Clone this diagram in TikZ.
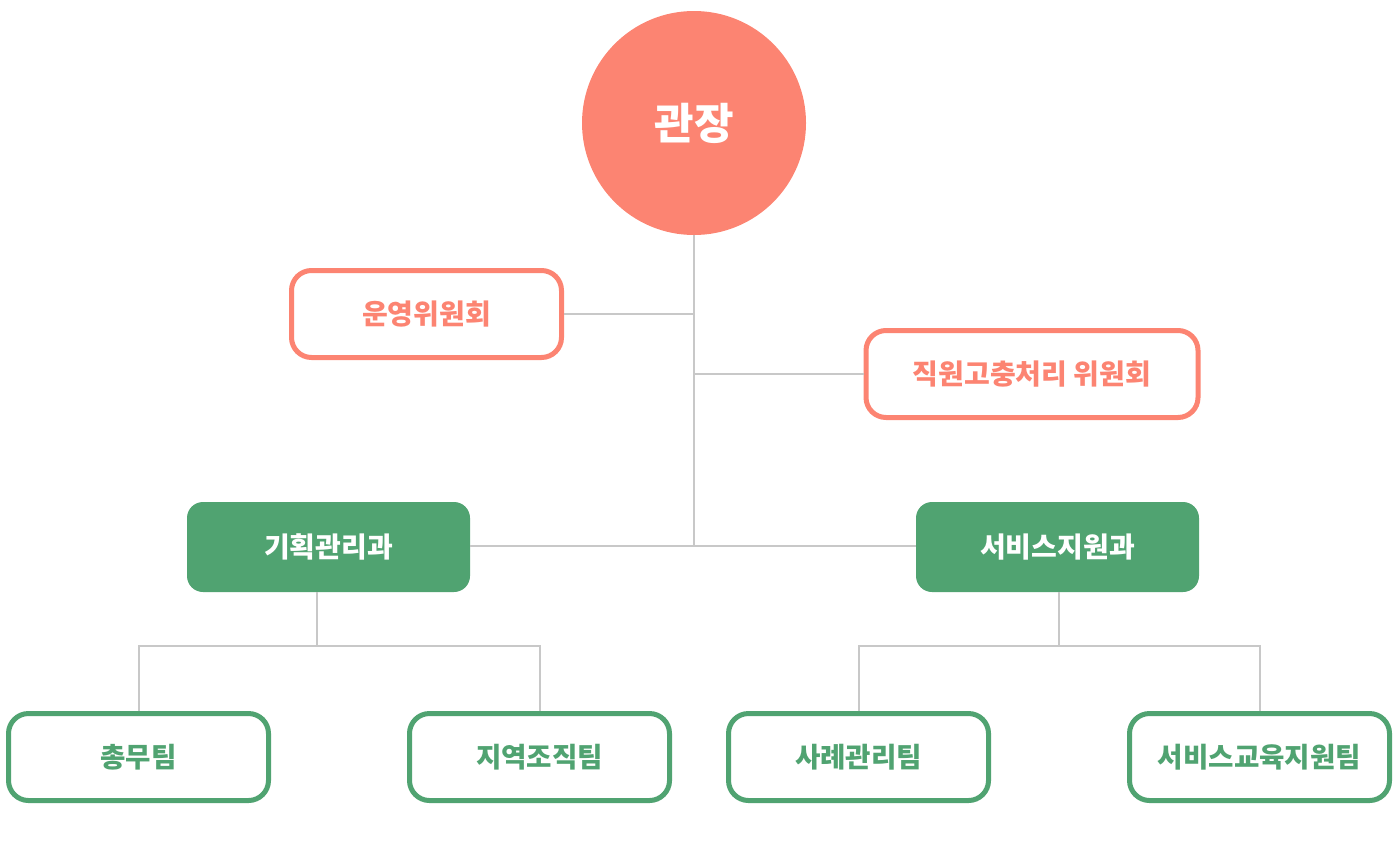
\documentclass[tikz,border=0pt]{standalone}
\usepackage{fontspec}
\setmainfont{Noto Sans CJK KR}
\usetikzlibrary{positioning}
\definecolor{orgpink}{RGB}{252,132,114}
\definecolor{orggreen}{RGB}{80,163,113}
\definecolor{orgline}{RGB}{200,200,200}
\tikzstyle{chief} = [circle, minimum size=112pt, inner sep=0pt, fill=orgpink, text=white, font=\fontsize{21.5}{25}\selectfont\bfseries]
\tikzstyle{committee} = [rectangle, rounded corners=10pt, minimum height=43.5pt, draw=orgpink, line width=2.5pt, fill=white, text=orgpink, font=\fontsize{14}{17}\selectfont\bfseries]
\tikzstyle{dept} = [rectangle, rounded corners=8pt, minimum width=141.5pt, minimum height=45pt, fill=orggreen, text=white, font=\fontsize{14}{17}\selectfont\bfseries]
\tikzstyle{team} = [rectangle, rounded corners=10pt, minimum width=130pt, minimum height=43.5pt, draw=orggreen, line width=2.5pt, fill=white, text=orggreen, font=\fontsize{13.8}{17}\selectfont\bfseries]
\tikzstyle{link} = [draw=orgline, line width=1pt]

\begin{document}
\begin{tikzpicture}[x=0.5pt, y=-0.5pt]
\useasboundingbox (0,0) rectangle (1400,841);
\node (chief) [chief] at (694,123) {관장};
\node (opcom) [committee, minimum width=135pt] at (426.5,314) {운영위원회};
\node (grievcom) [committee, minimum width=166pt] at (1032,374) {직원고충처리 위원회};
\node (plan) [dept] at (328.5,547) {기획관리과};
\node (service) [dept] at (1057.5,547) {서비스지원과};
\node (general) [team] at (138.5,757) {총무팀};
\node (region) [team] at (539.5,757) {지역조직팀};
\node (case) [team] at (858.5,757) {사례관리팀};
\node (edu) [team] at (1259.5,757) {서비스교육지원팀};

\coordinate (trunk) at (694,546);
\coordinate (planfork) at (317,646);
\coordinate (servfork) at (1059,646);

\begin{scope}[on background layer/.try]
\draw[link] (chief) -- (trunk);
\draw[link] (opcom) -- (opcom -| trunk);
\draw[link] (grievcom) -- (grievcom -| trunk);
\draw[link] (plan.east |- trunk) -- (service.west |- trunk);
\draw[link] (plan.south -| planfork) -- (planfork);
\draw[link] (general.north) -- (general.north |- planfork) -- (region.north |- planfork) -- (region.north);
\draw[link] (service.south -| servfork) -- (servfork);
\draw[link] (case.north) -- (case.north |- servfork) -- (edu.north |- servfork) -- (edu.north);
\end{scope}
\end{tikzpicture}
\end{document}
